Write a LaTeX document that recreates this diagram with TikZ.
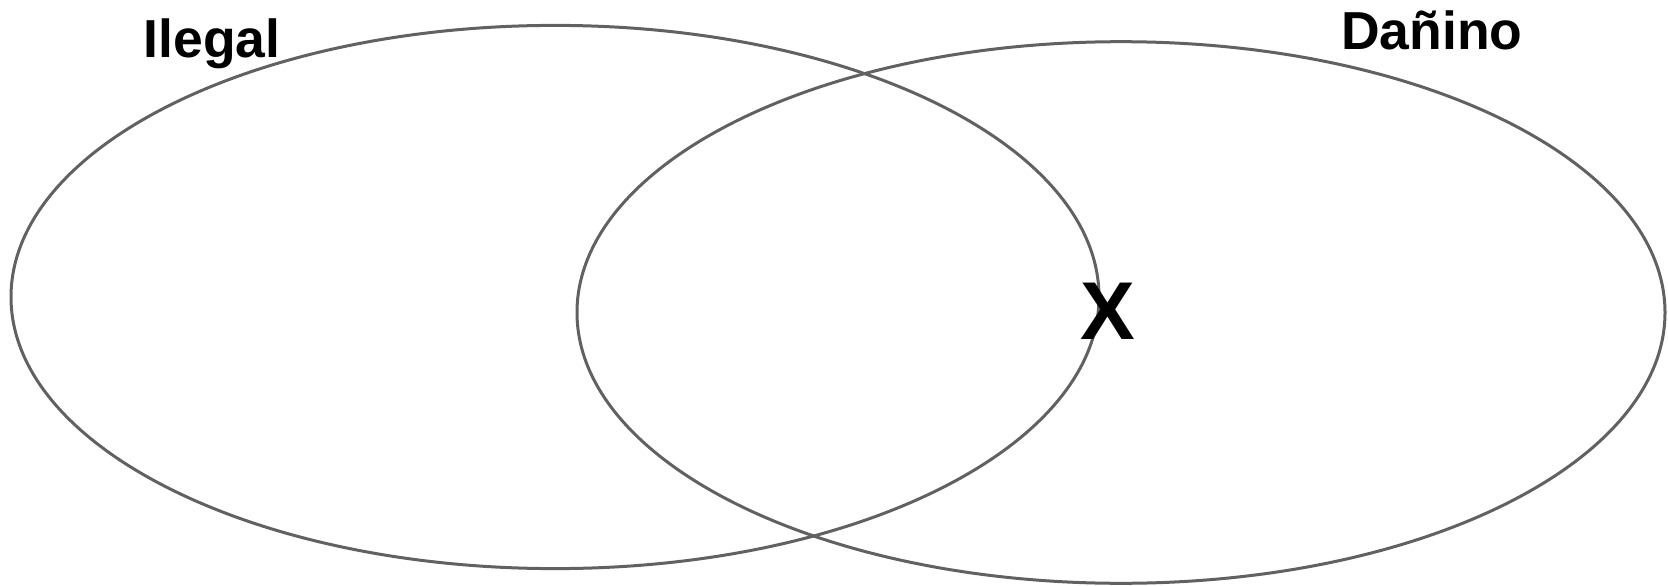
\documentclass[tikz,border=0pt]{standalone}
\usepackage{fontspec}
\setmainfont{Liberation Sans}
\begin{document}
\begin{tikzpicture}[x=1pt,y=-1pt,
  conjunto/.style={draw=black!62,line width=3pt},
  etiqueta/.style={font=\fontsize{53.5}{60}\selectfont\bfseries,inner sep=0pt,anchor=base}]
\useasboundingbox (0,0) rectangle (1668,586);
% conjunto ilegal
\draw[conjunto] (555,297) ellipse [x radius=544,y radius=271.6];
% conjunto danino
\draw[conjunto] (1121,312.5) ellipse [x radius=544,y radius=270.8];
\node[etiqueta] (ilegal) at (212,58) {Ilegal};
\node[etiqueta] (danino) at (1432,50) {Dañino};
\node[font=\fontsize{82}{90}\selectfont\bfseries,inner sep=0pt] (x) at (1108,311) {X};
\end{tikzpicture}
\end{document}
